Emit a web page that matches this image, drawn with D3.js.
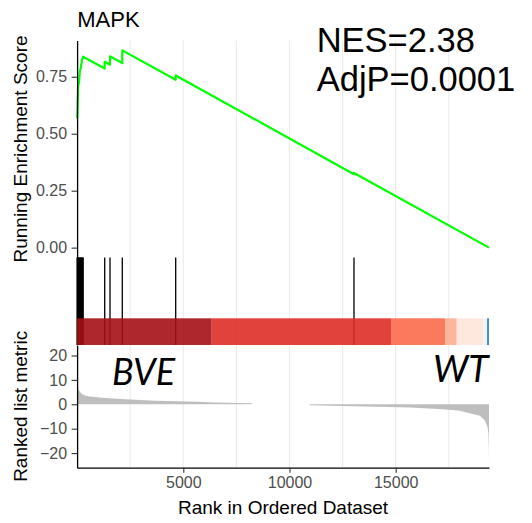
<!DOCTYPE html>
<html>
<head>
<meta charset="utf-8">
<script src="https://cdn.jsdelivr.net/npm/d3@7"></script>
<style>
  html, body { margin: 0; padding: 0; background: #fff; }
  svg { display: block; font-family: "Liberation Sans", Arial, sans-serif; }
</style>
</head>
<body>
<svg id="chart" width="532" height="523"></svg>
<script>
// ---- data ----
const geneCount = 19393;
const title = "MAPK";
const statLines = ["NES=2.38", "AdjP=0.0001"];
const groupLeft = "BVE";
const groupRight = "WT";

// running enrichment score (rank, score)
const esRank  = [1, 25, 50, 90, 130, 175, 215, 250, 285, 1295, 1300, 1545, 1549, 2124, 2128, 4638, 4642, 13032, 13036, 19393];
const esScore = [0.567, 0.64, 0.71, 0.725, 0.775, 0.79, 0.815, 0.83, 0.838, 0.786, 0.816, 0.803, 0.840, 0.810, 0.866, 0.737, 0.756, 0.322, 0.328, 0.0];

// positions of gene-set members in the ranked list
const hitRank = [1, 20, 40, 60, 85, 110, 135, 160, 185, 210, 235, 260, 285, 1300, 1549, 2128, 4642, 13036];

// ranked list metric (rank, value)
const metricRank  = [1, 60, 217, 400, 607, 1200, 2255, 3668, 5706, 6500, 8220, 8260, 10940, 10965, 12000, 13600, 15670, 17220, 18030, 18340, 18970, 19205, 19330, 19365, 19385, 19393];
const metricValue = [7.2, 6.0, 4.2, 3.5, 3.2, 2.7, 2.1, 1.45, 1.0, 0.7, 0.45, 0, 0, -0.4, -0.6, -0.9, -1.3, -2.0, -2.7, -3.4, -4.7, -6.8, -9.5, -12, -18, -24];

// colour bar bins along the ranking
const barFrom  = [0, 6337, 14779, 17321, 17872, 19124, 19300];
const barTo    = [6337, 14779, 17321, 17872, 19124, 19300, 19393];
const barColor = ["#A50F15", "#DE2D26", "#FB6A4A", "#FCAE91", "#FEE5D9", "#EFF3FF", "#3182BD"];

// ticks
const rankTicks = [5000, 10000, 15000];
const rankMinorTicks = [2500, 7500, 12500, 17500];
const esTicks = [0, 0.25, 0.5, 0.75];
const metricTicks = [-20, -10, 0, 10, 20];

// ---- layout ----
const L = 77.1, R = 489;
const esTop = 40.5, esBottom = 257.5;
const hitTop = 257.5, barTop = 318.3, hitBottom = 345;
const metTop = 345, metBottom = 467.7;

const svg = d3.select("#chart");

const x = d3.scaleLinear().domain([0, geneCount]).range([L, R]);

const esMin = d3.min(esScore), esMax = d3.max(esScore);
const esPad = (esMax - esMin) * 0.05;
const yES = d3.scaleLinear().domain([esMin - esPad, esMax + esPad]).range([esBottom, esTop]);

const yMet = d3.scaleLinear().domain([-26.0, 24.3]).range([metBottom, metTop]);

// vertical grid lines through all panels
const grid = svg.append("g");
grid.selectAll("line.major").data(rankTicks).join("line")
  .attr("x1", d => x(d)).attr("x2", d => x(d))
  .attr("y1", esTop).attr("y2", metBottom)
  .attr("stroke", "#EBEBEB").attr("stroke-width", 1.1);
grid.selectAll("line.minor").data(rankMinorTicks).join("line")
  .attr("x1", d => x(d)).attr("x2", d => x(d))
  .attr("y1", esTop).attr("y2", metBottom)
  .attr("stroke", "#EBEBEB").attr("stroke-width", 1.1);

// hit lines
svg.append("g").selectAll("line").data(hitRank).join("line")
  .attr("x1", d => x(d)).attr("x2", d => x(d))
  .attr("y1", hitTop).attr("y2", hitBottom)
  .attr("stroke", "#000").attr("stroke-width", 1.3);

// colour bar
svg.append("g").selectAll("rect").data(barColor).join("rect")
  .attr("x", (d, i) => x(barFrom[i]))
  .attr("width", (d, i) => x(barTo[i]) - x(barFrom[i]))
  .attr("y", barTop).attr("height", hitBottom - barTop)
  .attr("fill", d => d).attr("fill-opacity", 0.9);

// ranked list metric
const metricPts = metricRank.map((r, i) => [r, metricValue[i]]);
svg.append("path")
  .datum(metricPts)
  .attr("d", d3.area().x(d => x(d[0])).y0(yMet(0)).y1(d => yMet(d[1])))
  .attr("fill", "#BEBEBE");

// running enrichment score
const esPts = esRank.map((r, i) => [r, esScore[i]]);
svg.append("path")
  .datum(esPts)
  .attr("d", d3.line().x(d => x(d[0])).y(d => yES(d[1])))
  .attr("fill", "none").attr("stroke", "#00FF00")
  .attr("stroke-width", 2.2).attr("stroke-linejoin", "round");

// axes
function styleAxis(g) {
  g.select(".domain").attr("stroke", "#000").attr("stroke-width", 1.3);
  g.selectAll(".tick line").attr("stroke", "#333").attr("stroke-width", 1.1);
  g.selectAll(".tick text").attr("fill", "#4D4D4D").attr("font-size", 16)
    .attr("font-family", "'Liberation Sans', Arial, sans-serif");
}

svg.append("g").attr("transform", `translate(${L},0)`)
  .call(d3.axisLeft(yES).tickValues(esTicks).tickFormat(d3.format(".2f"))
    .tickSize(5.5).tickSizeOuter(0).tickPadding(4.5))
  .call(styleAxis);

svg.append("g").attr("transform", `translate(${L},0)`)
  .call(d3.axisLeft(yMet).tickValues(metricTicks).tickFormat(d3.format("d"))
    .tickSize(5.5).tickSizeOuter(0).tickPadding(4.5))
  .call(styleAxis);

svg.append("g").attr("transform", `translate(0,${metBottom})`)
  .call(d3.axisBottom(x).tickValues(rankTicks).tickFormat(d3.format("d"))
    .tickSize(5).tickSizeOuter(0).tickPadding(4.2))
  .call(styleAxis);

// titles
svg.append("text").attr("x", 77.3).attr("y", 26.7)
  .attr("font-size", 22).attr("fill", "#000").text(title);

svg.append("text").attr("x", (L + R) / 2).attr("y", 514)
  .attr("text-anchor", "middle").attr("font-size", 19).attr("fill", "#000")
  .text("Rank in Ordered Dataset");

svg.append("text")
  .attr("transform", `translate(27,${(esTop + esBottom) / 2}) rotate(-90)`)
  .attr("text-anchor", "middle").attr("font-size", 19).attr("fill", "#000")
  .text("Running Enrichment Score");

svg.append("text")
  .attr("transform", `translate(27,${(metTop + metBottom) / 2}) rotate(-90)`)
  .attr("text-anchor", "middle").attr("font-size", 19).attr("fill", "#000")
  .text("Ranked list metric");

// statistics
svg.append("g").selectAll("text").data(statLines).join("text")
  .attr("x", 316.7).attr("y", (d, i) => 52 + i * 38.5)
  .attr("font-size", 34.5).attr("fill", "#000").text(d => d);

// group labels
svg.append("text").attr("x", 112).attr("y", 385)
  .attr("font-family", "Lato, 'Open Sans', sans-serif").attr("font-style", "italic")
  .attr("font-size", 36).attr("fill", "#000").text(groupLeft);
svg.append("text").attr("x", 433).attr("y", 381.7)
  .attr("font-family", "Lato, 'Open Sans', sans-serif").attr("font-style", "italic")
  .attr("font-size", 37).attr("fill", "#000").text(groupRight);
</script>
</body>
</html>
